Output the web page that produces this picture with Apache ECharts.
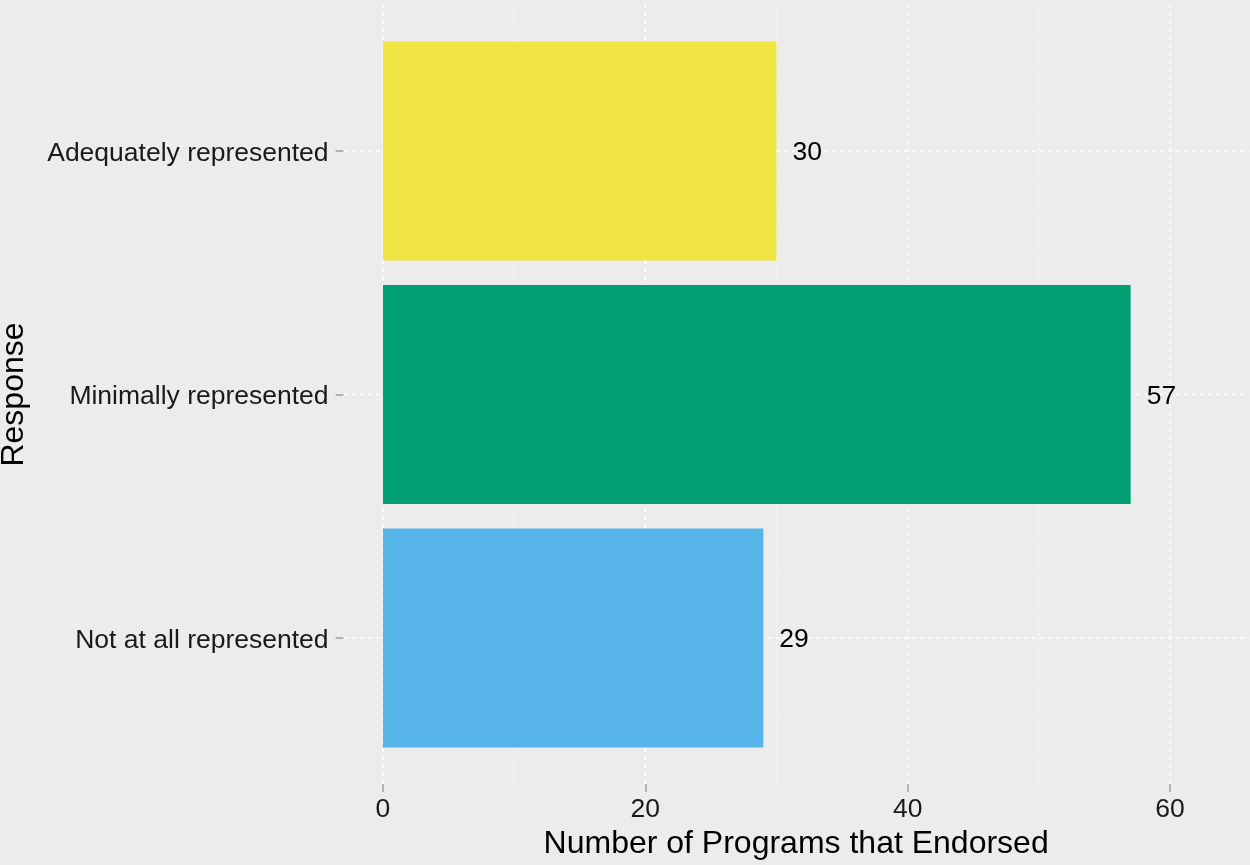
<!DOCTYPE html>
<html>
<head>
<meta charset="utf-8">
<script src="https://cdn.jsdelivr.net/npm/echarts@6/dist/echarts.min.js"></script>
<style>
html,body{margin:0;padding:0;background:#ECECEC;}
#chart{width:1250px;height:865px;}
</style>
</head>
<body>
<div id="chart"></div>
<script>
// Data
const categories = ['Not at all represented', 'Minimally represented', 'Adequately represented'];
const values = [29, 57, 30];
const xTicks = [0, 20, 40, 60];
const xMinorTicks = [10, 30, 50];
const xTitle = 'Number of Programs that Endorsed';
const yTitle = 'Response';

const palette = ['#56B4E9', '#009E73', '#F0E442'];
const X_MIN = -3, X_MAX = 66, Y_MIN = 0.4, Y_MAX = 3.6;
const FONT = '"Liberation Sans", Arial, sans-serif';
const catPos = categories.map((c, i) => i + 1);

const chart = echarts.init(document.getElementById('chart'));

function lineSeries(name, data, vertical, dash, width) {
  return {
    type: 'custom', name: name, silent: true, z: 1,
    data: data.map(v => [v]),
    renderItem: function (params, api) {
      const v = api.value(0);
      const a = vertical ? api.coord([v, Y_MIN]) : api.coord([X_MIN, v]);
      const b = vertical ? api.coord([v, Y_MAX]) : api.coord([X_MAX, v]);
      return {
        type: 'line',
        shape: { x1: a[0], y1: a[1], x2: b[0], y2: b[1] },
        style: { stroke: '#FFFFFF', lineWidth: width, lineDash: dash }
      };
    }
  };
}

const option = {
  backgroundColor: '#ECECEC',
  animation: false,
  grid: { left: 343.6, right: 1.3, top: 4.9, bottom: 80.9, containLabel: false, outerBoundsMode: 'none' },
  xAxis: {
    type: 'value', min: X_MIN, max: X_MAX,
    name: xTitle, nameLocation: 'middle', nameGap: 42,
    nameTextStyle: { fontFamily: FONT, fontSize: 32, color: '#000' },
    axisLine: { show: false, onZero: false },
    splitLine: { show: false },
    axisTick: { show: true, customValues: xTicks, length: 8, lineStyle: { color: '#A0A0A0', width: 1.5 } },
    axisLabel: { customValues: xTicks, margin: 12, fontFamily: FONT, fontSize: 26.5, color: '#1A1A1A' }
  },
  yAxis: {
    type: 'value', min: Y_MIN, max: Y_MAX,
    name: yTitle, nameLocation: 'middle', nameGap: 313,
    nameTextStyle: { fontFamily: FONT, fontSize: 32, color: '#000' },
    axisLine: { show: false, onZero: false },
    splitLine: { show: false },
    axisTick: { show: true, customValues: catPos, length: 8, lineStyle: { color: '#A0A0A0', width: 1.5 } },
    axisLabel: {
      customValues: catPos, margin: 15, fontFamily: FONT, fontSize: 26.5, color: '#1A1A1A',
      formatter: function (v) { return '{c|' + (categories[Math.round(v) - 1] || '') + '}'; },
      rich: { c: { fontFamily: FONT, fontSize: 26.5, color: '#1A1A1A', padding: [5, 0, 0, 0] } }
    }
  },
  series: [
    lineSeries('vgridMinor', xMinorTicks, true, [1.5, 3], 1),
    lineSeries('vgridMajor', xTicks, true, [4, 4], 1.5),
    lineSeries('hgrid', catPos, false, [4, 4], 1.5),
    {
      type: 'custom', name: 'bars', z: 3,
      data: values.map((v, i) => [v, i + 1]),
      renderItem: function (params, api) {
        const v = api.value(0), y = api.value(1);
        const s = api.coord([0, y]);
        const e = api.coord([v, y]);
        const h = api.size([0, 0.9])[1];
        return {
          type: 'group',
          children: [
            {
              type: 'rect',
              shape: { x: s[0], y: s[1] - h / 2, width: e[0] - s[0], height: h },
              style: { fill: palette[params.dataIndex] }
            },
            {
              type: 'text',
              x: e[0] + 16, y: e[1] + 2,
              style: {
                text: String(v), fontFamily: FONT, fontSize: 26.5, fill: '#000',
                align: 'left', verticalAlign: 'middle'
              }
            }
          ]
        };
      }
    }
  ]
};
chart.setOption(option);
</script>
</body>
</html>
